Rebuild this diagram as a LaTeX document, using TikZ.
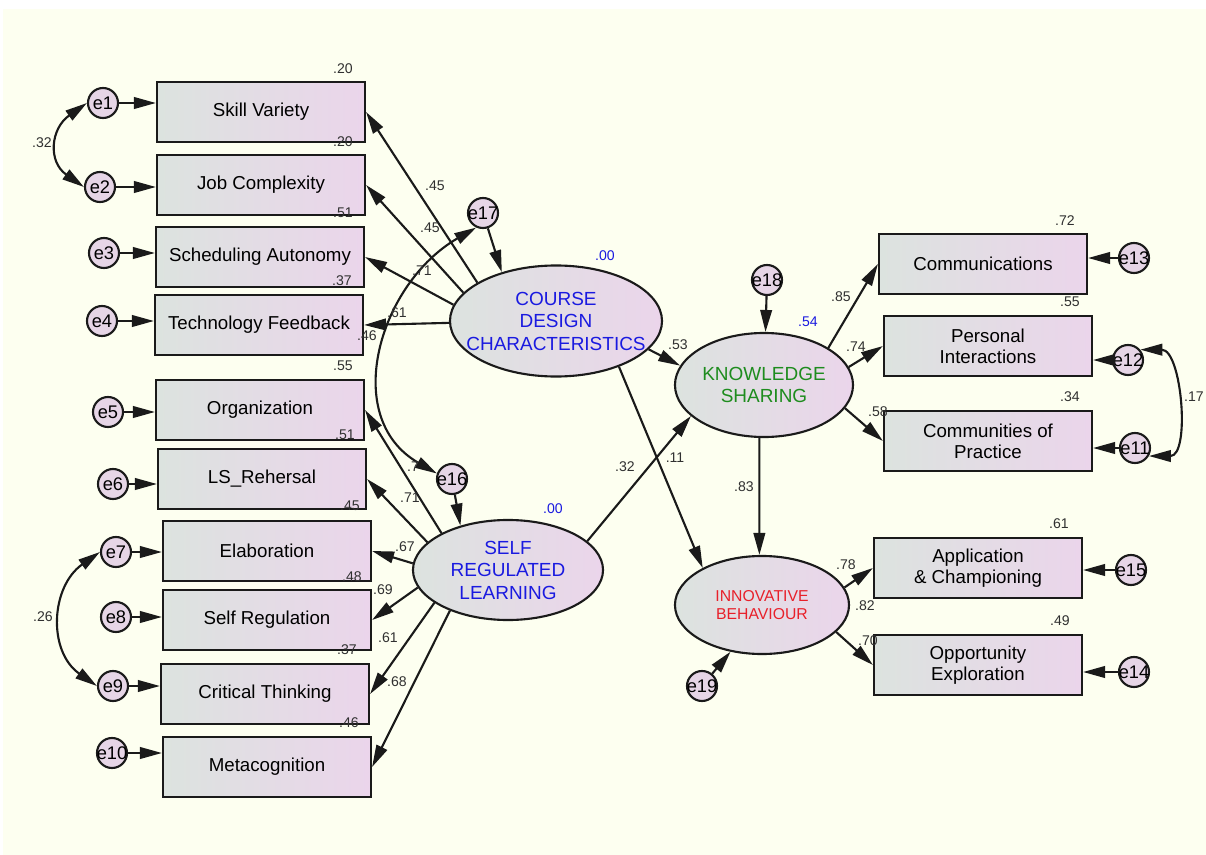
\documentclass[tikz,border=0pt]{standalone}
\usepackage{fontspec}
\setmainfont{Liberation Sans}
\usetikzlibrary{arrows.meta,shapes.geometric}
\definecolor{paper}{HTML}{FDFFF0}
\definecolor{edge}{HTML}{1A1A1A}
\definecolor{boxl}{HTML}{DCE3DF}
\definecolor{boxr}{HTML}{EBD5EB}
\definecolor{errfill}{HTML}{E6D5E6}
\definecolor{numcol}{HTML}{303030}
\definecolor{latblue}{HTML}{1A1AE0}
\definecolor{latgreen}{HTML}{1E8C1E}
\definecolor{latred}{HTML}{E8202A}
\begin{document}
\begin{tikzpicture}[x=0.025cm,y=-0.025cm,>={Triangle[length=5.5mm,width=2.9mm]},
	obs/.style={rectangle,draw=edge,line width=1.5pt,left color=boxl,right color=boxr,minimum width=5.2cm,minimum height=1.5cm,align=center,inner sep=0pt,font=\fontsize{13.3}{15}\selectfont},
	lat/.style={ellipse,draw=edge,line width=1.5pt,left color=boxl,right color=boxr,align=center,inner sep=0pt,font=\fontsize{13.5}{16}\selectfont},
	err/.style={circle,draw=edge,line width=1.5pt,fill=errfill,minimum size=0.75cm,inner sep=-1.5pt,font=\fontsize{13}{13}\selectfont},
	num/.style={text=numcol,inner sep=0pt,font=\fontsize{10}{10}\selectfont},
	bnum/.style={num,text=latblue},
	arr/.style={->,line width=1.5pt,draw=edge},
	cov/.style={<->,line width=1.5pt,draw=edge}]
	\useasboundingbox (0,0) rectangle (1206,855);
	\fill[white] (0,0) rectangle (1206,855);
	\fill[paper] (3,9) rectangle (1206,855);

	\node(sv)[obs] at (261,112) {Skill Variety};
	\node(jc)[obs] at (261,185) {Job Complexity};
	\node(sa)[obs] at (260,257) {Scheduling Autonomy};
	\node(tf)[obs] at (259,325) {Technology Feedback};
	\node(org)[obs] at (260,410) {Organization};
	\node(reh)[obs] at (262,479) {LS\_Rehersal};
	\node(ela)[obs] at (267,551) {Elaboration};
	\node(sreg)[obs] at (267,620) {Self Regulation};
	\node(crit)[obs] at (265,694) {Critical Thinking};
	\node(meta)[obs] at (267,767) {Metacognition};

	\node(com)[obs] at (983,264) {Communications};
	\node(pers)[obs] at (988,346) {Personal\\Interactions};
	\node(cop)[obs] at (988,441) {Communities of\\Practice};
	\node(app)[obs] at (978,568) {Application\\\& Championing};
	\node(opp)[obs] at (978,665) {Opportunity\\Exploration};

	\node(cdc)[lat,text=latblue,inner xsep=-11pt,minimum width=5.3cm,minimum height=2.775cm] at (556,321) {COURSE\\DESIGN\\CHARACTERISTICS};
	\node(srl)[lat,text=latblue,minimum width=4.75cm,minimum height=2.5cm] at (508,570) {SELF\\REGULATED\\LEARNING};
	\node(ks)[lat,text=latgreen,minimum width=4.45cm,minimum height=2.6cm] at (764,385) {KNOWLEDGE\\SHARING};
	\node(ib)[lat,text=latred,minimum width=4.35cm,minimum height=2.45cm,font=\fontsize{11.2}{13}\selectfont] at (762,605) {INNOVATIVE\\BEHAVIOUR};

	\node(e1)[err] at (103,103) {e1};
	\node(e2)[err] at (100,187) {e2};
	\node(e3)[err] at (104,253) {e3};
	\node(e4)[err] at (102,321) {e4};
	\node(e5)[err] at (108,412) {e5};
	\node(e6)[err] at (113,484) {e6};
	\node(e7)[err] at (116,552) {e7};
	\node(e8)[err] at (116,617) {e8};
	\node(e9)[err] at (113,686) {e9};
	\node(e10)[err] at (112,753) {e10};
	\node(e11)[err] at (1135,448) {e11};
	\node(e12)[err] at (1128,360) {e12};
	\node(e13)[err] at (1134,258) {e13};
	\node(e14)[err] at (1134,672) {e14};
	\node(e15)[err] at (1131,570) {e15};
	\node(e16)[err] at (452,479) {e16};
	\node(e17)[err] at (483,213) {e17};
	\node(e18)[err] at (767,280) {e18};
	\node(e19)[err] at (702,686) {e19};

	\draw[arr] (e1) -- (e1 -| sv.west);
	\draw[arr] (e2) -- (e2 -| jc.west);
	\draw[arr] (e3) -- (e3 -| sa.west);
	\draw[arr] (e4) -- (e4 -| tf.west);
	\draw[arr] (e5) -- (e5 -| org.west);
	\draw[arr] (e6) -- (e6 -| reh.west);
	\draw[arr] (e7) -- (e7 -| ela.west);
	\draw[arr] (e8) -- (e8 -| sreg.west);
	\draw[arr] (e9) -- (e9 -| crit.west);
	\draw[arr] (e10) -- (e10 -| meta.west);
	\draw[arr] (e13) -- (e13 -| com.east);
	\draw[arr] (e12) -- (e12 -| pers.east);
	\draw[arr] (e11) -- (e11 -| cop.east);
	\draw[arr] (e15) -- (e15 -| app.east);
	\draw[arr] (e14) -- (e14 -| opp.east);

	\draw[arr] (cdc.154) -- (sv.east);
	\draw[arr] (cdc.163) -- (jc.east);
	\draw[arr] (cdc.171) -- (sa.east);
	\draw[arr] (cdc.181) -- (tf.east);
	\draw[arr] (srl.151) -- (org.east);
	\draw[arr] (srl.161) -- (reh.east);
	\draw[arr] (srl.176) -- (ela.east);
	\draw[arr] (srl.191) -- (sreg.east);
	\draw[arr] (srl.204) -- (crit.east);
	\draw[arr] (srl.215) -- (meta.east);

	\draw[arr] (e17) -- (cdc.138);
	\draw[arr] (e16) -- (srl.137);
	\draw[arr] (e18) -- (ks);
	\draw[arr] (e19) -- (ib.236);
	\draw[arr] (cdc.343) -- (ks.167);
	\draw[arr] (cdc.324) -- (ib.148);
	\draw[arr] (srl.20) -- (ks.203);
	\draw[arr] (ks.265) -- (ib.93);
	\draw[arr] (ks.30) -- (com.west);
	\draw[arr] (ks.12) -- (pers.west);
	\draw[arr] (ks.344) -- (cop.west);
	\draw[arr] (ib.12) -- (app.west);
	\draw[arr] (ib.340) -- (opp.west);

	\draw[cov] (e1.west) to[out=215,in=145,looseness=1.35] (e2.west);
	\draw[cov] (e7.west) to[out=215,in=145,looseness=1.15] (e9.west);
	\draw[cov] (e12.40) to[out=0,in=0,looseness=1.0] (e11.-30);
	\draw[cov] (e17.245) to[out=210,in=150,looseness=1.15] (e16.160);

	\node(r1)[num] at (343,69) {.20};
	\node(r2)[num] at (343,142) {.20};
	\node(r3)[num] at (343,213) {.51};
	\node(r4)[num] at (342,281) {.37};
	\node(r5)[num] at (343,366) {.55};
	\node(r6)[num] at (345,435) {.51};
	\node(r7)[num] at (350,506) {.45};
	\node(r8)[num] at (352,577) {.48};
	\node(r9)[num] at (347,650) {.37};
	\node(r10)[num] at (349,723) {.46};
	\node(r11)[num] at (1070,397) {.34};
	\node(r12)[num] at (1070,302) {.55};
	\node(r13)[num] at (1065,221) {.72};
	\node(r14)[num] at (1060,621) {.49};
	\node(r15)[num] at (1059,524) {.61};
	\node(c12)[num] at (42,143) {.32};
	\node(c79)[num] at (43,617) {.26};
	\node(c1112)[num] at (1194,397) {.17};
	\node(l1)[num] at (435,186) {.45};
	\node(l2)[num] at (430,228) {.45};
	\node(l3)[num] at (422,271) {.71};
	\node(l4)[num] at (397,313) {.61};
	\node(l5)[num] at (367,336) {.46};
	\node(l6)[num] at (413,467) {.7};
	\node(l7)[num] at (410,498) {.71};
	\node(l8)[num] at (405,547) {.67};
	\node(l9)[num] at (383,590) {.69};
	\node(l10)[num] at (388,638) {.61};
	\node(l11)[num] at (397,682) {.68};
	\node(l12)[num] at (841,297) {.85};
	\node(l13)[num] at (856,347) {.74};
	\node(l14)[num] at (878,412) {.58};
	\node(l15)[num] at (846,565) {.78};
	\node(l16)[num] at (865,606) {.82};
	\node(l17)[num] at (868,641) {.70};
	\node(p1)[num] at (678,345) {.53};
	\node(p2)[num] at (625,467) {.32};
	\node(p3)[num] at (675,458) {.11};
	\node(p4)[num] at (744,487) {.83};
	\node(s1)[bnum] at (605,256) {.00};
	\node(s2)[bnum] at (553,509) {.00};
	\node(s3)[bnum] at (808,322) {.54};
\end{tikzpicture}
\end{document}
